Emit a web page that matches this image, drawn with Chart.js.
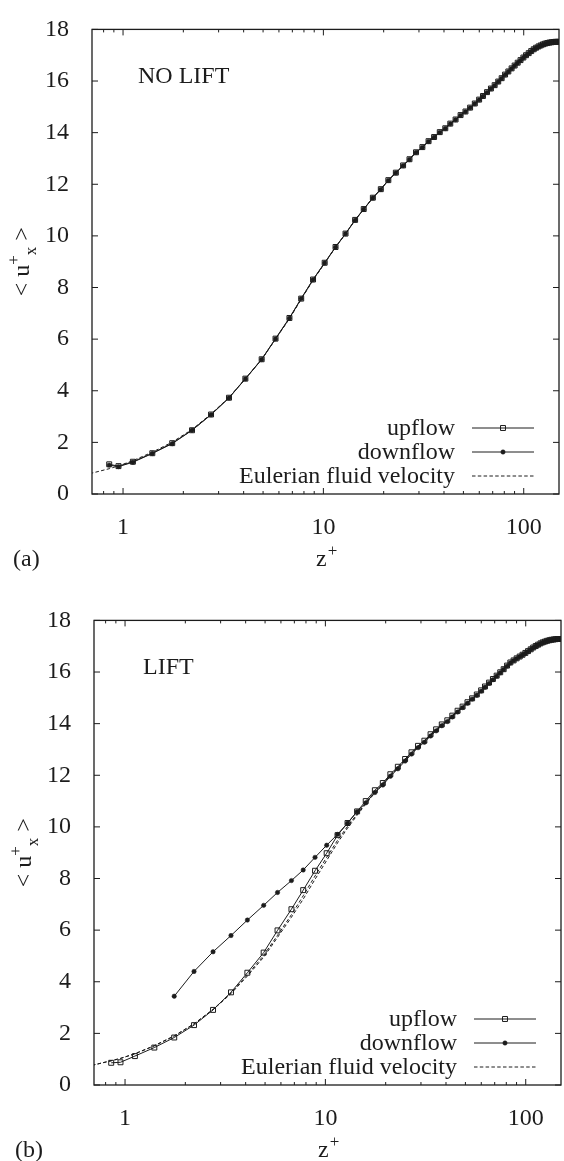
<!DOCTYPE html>
<html>
<head>
<meta charset="utf-8">
<script src="https://cdn.jsdelivr.net/npm/chart.js@4.4.1/dist/chart.umd.min.js"></script>
<style>
  html, body { margin: 0; padding: 0; background: #fff; overflow: hidden; }
  #ca { position: absolute; left: 0; top: 0; }
  #cb { position: absolute; left: 2px; top: 591px; }
</style>
</head>
<body>
<canvas id="ca" width="564" height="591"></canvas>
<canvas id="cb" width="564" height="570"></canvas>
<script>
// z+ positions of the statistics (same grid in both panels)
const zGrid = [0.853, 0.949, 1.12, 1.40, 1.76, 2.21, 2.75, 3.38, 4.08, 4.92,
  5.77, 6.77, 7.75, 8.88, 10.15, 11.5, 12.9, 14.4, 15.9, 17.66,
  19.35, 21.1, 23.0, 25.0, 26.9, 29.0, 31.2, 33.5, 35.7, 38.1,
  40.6, 43.0, 45.7, 48.4, 51.2, 54.0, 57.0, 59.9, 62.6, 65.6,
  68.6, 71.6, 74.6, 77.6, 80.7, 83.8, 87.0, 90.1, 93.3, 96.4,
  99.6, 102.7, 105.9, 109.0, 112.2, 115.3, 118.5, 121.6, 124.8, 127.9,
  131.1, 134.2, 137.4, 140.5, 143.7, 146.8, 150.0]
// the fluid profile starts a little closer to the wall
const zNearWall = [0.6, 0.7]

// (a) NO LIFT
const upflowA = [1.15, 1.08, 1.25, 1.58, 1.97, 2.47, 3.08, 3.73, 4.47, 5.22,
  6.02, 6.82, 7.57, 8.31, 8.96, 9.57, 10.09, 10.62, 11.04, 11.48,
  11.81, 12.16, 12.45, 12.73, 12.97, 13.24, 13.44, 13.67, 13.83, 14.02,
  14.17, 14.35, 14.51, 14.68, 14.82, 14.97, 15.13, 15.28, 15.42, 15.57,
  15.71, 15.84, 15.98, 16.11, 16.25, 16.37, 16.49, 16.60, 16.71, 16.81,
  16.91, 17.00, 17.08, 17.16, 17.23, 17.29, 17.34, 17.38, 17.42, 17.45,
  17.47, 17.49, 17.50, 17.51, 17.52, 17.52, 17.52]
const downflowA = [1.12, 1.06, 1.23, 1.57, 1.95, 2.47, 3.07, 3.72, 4.46, 5.21,
  6.01, 6.81, 7.57, 8.30, 8.95, 9.56, 10.08, 10.61, 11.03, 11.47,
  11.80, 12.15, 12.44, 12.72, 12.96, 13.23, 13.43, 13.66, 13.82, 14.01,
  14.16, 14.34, 14.50, 14.67, 14.81, 14.96, 15.12, 15.27, 15.41, 15.56,
  15.70, 15.83, 15.97, 16.10, 16.24, 16.36, 16.48, 16.59, 16.70, 16.80,
  16.90, 16.99, 17.07, 17.15, 17.22, 17.28, 17.33, 17.37, 17.41, 17.44,
  17.46, 17.48, 17.49, 17.50, 17.51, 17.51, 17.51]
const eulerA = [0.68, 0.81,
  0.98, 1.09, 1.29, 1.62, 2.01, 2.50, 3.10, 3.74, 4.47, 5.21,
  6.00, 6.79, 7.54, 8.28, 8.94, 9.56, 10.08, 10.61, 11.04, 11.48,
  11.81, 12.16, 12.45, 12.73, 12.97, 13.24, 13.44, 13.67, 13.83, 14.02,
  14.17, 14.35, 14.51, 14.68, 14.82, 14.97, 15.13, 15.28, 15.42, 15.57,
  15.71, 15.84, 15.98, 16.11, 16.25, 16.37, 16.49, 16.60, 16.71, 16.81,
  16.91, 17.00, 17.08, 17.16, 17.23, 17.29, 17.34, 17.38, 17.42, 17.45,
  17.47, 17.49, 17.50, 17.51, 17.52, 17.52, 17.52]

// (b) LIFT
const upflowB = [0.86, 0.88, 1.12, 1.45, 1.84, 2.32, 2.91, 3.59, 4.35, 5.13,
  5.99, 6.81, 7.55, 8.30, 8.98, 9.68, 10.15, 10.60, 11.00, 11.42,
  11.70, 12.04, 12.33, 12.63, 12.89, 13.14, 13.34, 13.59, 13.78, 13.97,
  14.13, 14.31, 14.50, 14.66, 14.83, 14.98, 15.13, 15.29, 15.44, 15.59,
  15.73, 15.86, 15.99, 16.11, 16.25, 16.37, 16.45, 16.53, 16.60, 16.67,
  16.74, 16.81, 16.88, 16.95, 17.01, 17.06, 17.11, 17.15, 17.18, 17.21,
  17.23, 17.25, 17.26, 17.27, 17.28, 17.28, 17.28]
const downflowB = [null, null, null, null, 3.44, 4.40, 5.16, 5.79, 6.39, 6.96,
  7.46, 7.92, 8.33, 8.82, 9.29, 9.71, 10.14, 10.59, 10.93, 11.33,
  11.62, 11.96, 12.25, 12.55, 12.82, 13.07, 13.28, 13.52, 13.72, 13.92,
  14.08, 14.26, 14.45, 14.62, 14.79, 14.95, 15.10, 15.26, 15.41, 15.56,
  15.70, 15.84, 15.97, 16.10, 16.23, 16.35, 16.44, 16.52, 16.59, 16.66,
  16.73, 16.80, 16.87, 16.94, 17.00, 17.05, 17.10, 17.14, 17.17, 17.20,
  17.22, 17.24, 17.25, 17.26, 17.27, 17.27, 17.27]
const eulerB1 = [0.66, 0.78,
  0.94, 1.03, 1.21, 1.52, 1.90, 2.37, 2.93, 3.56, 4.27, 5.02,
  5.80, 6.60, 7.33, 8.10, 8.82, 9.48, 10.02, 10.50, 10.92, 11.36,
  11.67, 12.01, 12.30, 12.60, 12.86, 13.11, 13.31, 13.56, 13.75, 13.94,
  14.10, 14.28, 14.47, 14.64, 14.81, 14.96, 15.11, 15.27, 15.42, 15.57,
  15.71, 15.85, 15.98, 16.10, 16.24, 16.36, 16.44, 16.52, 16.59, 16.66,
  16.73, 16.80, 16.87, 16.94, 17.00, 17.05, 17.10, 17.14, 17.17, 17.20,
  17.22, 17.24, 17.25, 17.26, 17.27, 17.27, 17.27]
const eulerB2 = [0.66, 0.78,
  0.94, 1.03, 1.21, 1.52, 1.90, 2.37, 2.92, 3.54, 4.22, 4.95,
  5.72, 6.50, 7.20, 7.97, 8.70, 9.38, 9.95, 10.45, 10.88, 11.32,
  11.64, 11.99, 12.28, 12.58, 12.85, 13.10, 13.30, 13.55, 13.74, 13.93,
  14.10, 14.28, 14.47, 14.64, 14.81, 14.96, 15.11, 15.27, 15.42, 15.57,
  15.71, 15.85, 15.98, 16.10, 16.24, 16.36, 16.44, 16.52, 16.59, 16.66,
  16.73, 16.80, 16.87, 16.94, 17.00, 17.05, 17.10, 17.14, 17.17, 17.20,
  17.22, 17.24, 17.25, 17.26, 17.27, 17.27, 17.27]

// axes
const xMajorTicks = [1, 10, 100]
const xMinorTicks = [0.8, 0.9, 2, 3, 4, 5, 6, 7, 8, 9, 20, 30, 40, 50, 60, 70, 80, 90]
const yTicks = [0, 2, 4, 6, 8, 10, 12, 14, 16, 18]

const INK = '#1c1c1c'
const FONT = "'Liberation Serif', 'Times New Roman', serif"

function pts(xs, ys) {
  return xs.map((x, i) => ({ x, y: ys[i] }))
}

function upflowSet(values) {
  return {
    label: 'upflow',
    data: pts(zGrid, values),
    borderColor: INK,
    borderWidth: 1,
    pointStyle: 'rect',
    pointRadius: 3.5,
    pointBorderWidth: 1,
    pointBorderColor: INK,
    pointBackgroundColor: 'rgba(255,255,255,0)'
  }
}

function downflowSet(values) {
  return {
    label: 'downflow',
    data: pts(zGrid, values),
    borderColor: INK,
    borderWidth: 1,
    pointStyle: 'circle',
    pointRadius: 2.2,
    pointBorderWidth: 0.5,
    pointBorderColor: INK,
    pointBackgroundColor: INK
  }
}

function eulerSet(values, label) {
  return {
    label,
    data: pts(zNearWall.concat(zGrid), values),
    borderColor: INK,
    borderWidth: 1,
    borderDash: [3.5, 2.3],
    pointRadius: 0
  }
}

// frame with inward gnuplot style tics on all four sides
const frameTics = {
  id: 'frameTics',
  afterDatasetsDraw(chart) {
    const { ctx, chartArea: a, scales } = chart
    ctx.save()
    ctx.strokeStyle = INK
    ctx.lineWidth = 1.3
    ctx.strokeRect(a.left, a.top, a.right - a.left, a.bottom - a.top)
    ctx.lineWidth = 1
    ctx.beginPath()
    xMajorTicks.concat(xMinorTicks).forEach((v) => {
      const len = xMajorTicks.includes(v) ? 6 : 3
      const px = scales.x.getPixelForValue(v)
      ctx.moveTo(px, a.bottom); ctx.lineTo(px, a.bottom - len)
      ctx.moveTo(px, a.top); ctx.lineTo(px, a.top + len)
    })
    yTicks.forEach((v) => {
      const py = scales.y.getPixelForValue(v)
      ctx.moveTo(a.left, py); ctx.lineTo(a.left + 6, py)
      ctx.moveTo(a.right, py); ctx.lineTo(a.right - 6, py)
    })
    ctx.stroke()
    ctx.restore()
  }
}

// key drawn like gnuplot: text right aligned, then the line sample
const gnuKey = {
  id: 'gnuKey',
  afterDraw(chart) {
    const { ctx } = chart
    ctx.save()
    ctx.font = '24px ' + FONT
    ctx.textAlign = 'right'
    ctx.textBaseline = 'middle'
    let row = 0
    chart.data.datasets.forEach((ds) => {
      if (!ds.label) return
      const y = 428 + row * 24
      ctx.fillStyle = INK
      ctx.fillText(ds.label, 455, y + 1)
      ctx.strokeStyle = ds.borderColor
      ctx.lineWidth = ds.borderWidth
      ctx.setLineDash(ds.borderDash || [])
      ctx.beginPath()
      ctx.moveTo(472, y)
      ctx.lineTo(534, y)
      ctx.stroke()
      ctx.setLineDash([])
      if (ds.pointRadius > 0) {
        ctx.fillStyle = ds.pointBackgroundColor
        ctx.strokeStyle = ds.pointBorderColor
        ctx.lineWidth = ds.pointBorderWidth
        Chart.helpers.drawPoint(ctx, {
          pointStyle: ds.pointStyle,
          radius: ds.pointRadius,
          rotation: 0,
          borderWidth: ds.pointBorderWidth
        }, 503, y)
      }
      row += 1
    })
    ctx.restore()
  }
}

// axis titles with super/subscripts, panel letter and annotation
const decor = {
  id: 'decor',
  afterDraw(chart, args, opts) {
    const { ctx, chartArea: a } = chart
    const big = '24px ' + FONT
    const small = '17px ' + FONT
    ctx.save()
    ctx.fillStyle = INK
    ctx.textAlign = 'left'
    ctx.textBaseline = 'alphabetic'
    ctx.font = big
    ctx.fillText(opts.note, opts.noteX, 83)
    ctx.fillText(opts.letter, 13, 566)

    // z+
    ctx.fillText('z', 316, 566)
    const wz = ctx.measureText('z').width
    ctx.font = small
    ctx.fillText('+', 316 + wz + 1, 556)

    // < u+x >
    ctx.translate(29, (a.top + a.bottom) / 2)
    ctx.rotate(-Math.PI / 2)
    const parts = [
      { t: '< u', f: big, dy: 0 },
      { t: '+', f: small, dy: -10 },
      { t: 'x', f: small, dy: 7 },
      { t: ' >', f: big, dy: 0 }
    ]
    let total = 0
    parts.forEach((p) => { ctx.font = p.f; p.w = ctx.measureText(p.t).width; total += p.w })
    let x = -total / 2
    parts.forEach((p) => {
      ctx.font = p.f
      ctx.fillText(p.t, x, p.dy)
      x += p.w
    })
    ctx.restore()
  }
}

function makePanel(id, datasets, decorOpts, canvasHeight) {
  const plotBottom = 494
  return new Chart(document.getElementById(id), {
    type: 'line',
    data: { datasets },
    options: {
      responsive: false,
      animation: false,
      devicePixelRatio: 1,
      layout: { padding: { top: 19, right: 1, left: 0, bottom: 0 } },
      plugins: {
        legend: { display: false },
        tooltip: { enabled: false },
        decor: decorOpts
      },
      scales: {
        x: {
          type: 'logarithmic',
          min: 0.7,
          max: 150,
          grid: { display: false },
          border: { display: false },
          afterBuildTicks: (scale) => { scale.ticks = xMajorTicks.map((v) => ({ value: v })) },
          afterFit: (scale) => { scale.height = canvasHeight - plotBottom },
          ticks: {
            padding: 11,
            maxRotation: 0,
            autoSkip: false,
            color: INK,
            font: { family: FONT, size: 24 },
            callback: (v) => String(v)
          }
        },
        y: {
          type: 'linear',
          min: 0,
          max: 18,
          grid: { display: false },
          border: { display: false },
          afterBuildTicks: (scale) => { scale.ticks = yTicks.map((v) => ({ value: v })) },
          afterFit: (scale) => { scale.width = 92 },
          ticks: {
            padding: 15,
            color: INK,
            font: { family: FONT, size: 24 },
            callback: (v) => String(v)
          }
        }
      }
    },
    plugins: [frameTics, gnuKey, decor]
  })
}

makePanel('ca', [
  upflowSet(upflowA),
  downflowSet(downflowA),
  eulerSet(eulerA, 'Eulerian fluid velocity')
], { note: 'NO LIFT', noteX: 138, letter: '(a)' }, 591)

makePanel('cb', [
  upflowSet(upflowB),
  downflowSet(downflowB),
  eulerSet(eulerB1, 'Eulerian fluid velocity'),
  eulerSet(eulerB2, '')
], { note: 'LIFT', noteX: 141, letter: '(b)' }, 570)
</script>
</body>
</html>
